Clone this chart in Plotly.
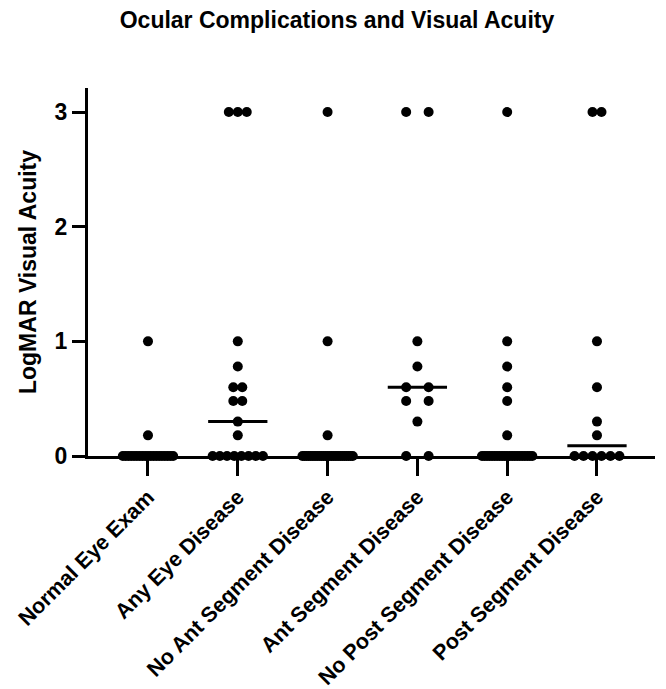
import numpy as np
import plotly.graph_objects as go

categories = ["Normal Eye Exam", "Any Eye Disease", "No Ant Segment Disease",
              "Ant Segment Disease", "No Post Segment Disease", "Post Segment Disease"]

normal_eye_exam = [1.0, 0.18] + [0.0] * 19
any_eye_disease = [3.0, 3.0, 3.0, 1.0, 0.78, 0.6, 0.6, 0.48, 0.48, 0.3, 0.18] + [0.0] * 8
no_ant_segment = [3.0, 1.0, 0.18] + [0.0] * 25
ant_segment = [3.0, 3.0, 1.0, 0.78, 0.6, 0.6, 0.48, 0.48, 0.3, 0.0, 0.0]
no_post_segment = [3.0, 1.0, 0.78, 0.6, 0.48, 0.18] + [0.0] * 21
post_segment = [3.0, 3.0, 1.0, 0.6, 0.3, 0.18] + [0.0] * 6

series = [normal_eye_exam, any_eye_disease, no_ant_segment,
          ant_segment, no_post_segment, post_segment]

y_ticks = [0, 1, 2, 3]

# horizontal spread (in category units) for stacked identical values
spread = [0.1, 0.1, 0.1, 0.25, 0.1, 0.1]
max_span = 0.56
half_line = 0.33

FONT = "Arial, Liberation Sans, sans-serif"

fig = go.Figure()

for i, vals in enumerate(series):
    vals = np.asarray(vals, dtype=float)
    xs = np.zeros(len(vals))
    for v in np.unique(vals):
        idx = np.where(vals == v)[0]
        k = len(idx)
        if k > 1:
            sp = min(spread[i], max_span / (k - 1))
            xs[idx] = (np.arange(k) - (k - 1) / 2) * sp
    fig.add_trace(go.Scatter(
        x=i + xs, y=vals, mode="markers",
        marker=dict(size=10, color="black"),
        cliponaxis=False, showlegend=False, hoverinfo="y"))
    med = float(np.median(vals))
    fig.add_trace(go.Scatter(
        x=[i - half_line, i + half_line], y=[med, med], mode="lines",
        line=dict(color="black", width=3),
        cliponaxis=False, showlegend=False, hoverinfo="skip"))

fig.update_layout(
    width=666, height=689,
    paper_bgcolor="white", plot_bgcolor="white",
    margin=dict(l=88, r=11, t=88, b=233, autoexpand=False),
    title=dict(text="<b>Ocular Complications and Visual Acuity</b>",
               x=0.506, xanchor="center", y=1 - 20 / 689, yanchor="middle",
               font=dict(family=FONT, size=23, color="black")),
    font=dict(family=FONT, color="black"),
)

fig.update_xaxes(
    range=[-0.668, 5.646], automargin=False,
    tickmode="array", tickvals=list(range(len(categories))), ticktext=categories,
    tickangle=-45, tickfont=dict(family=FONT, size=21.5, color="black", weight="bold"),
    ticks="outside", ticklen=17, tickwidth=3, tickcolor="black",
    showline=True, linewidth=3, linecolor="black",
    showgrid=False, zeroline=False, layer="below traces",
)

fig.update_yaxes(
    range=[0, 3.21], automargin=False,
    tickmode="array", tickvals=y_ticks, ticktext=[str(t) for t in y_ticks],
    tickfont=dict(family=FONT, size=23, color="black", weight="bold"),
    ticks="outside", ticklen=13, tickwidth=3, tickcolor="black",
    showline=True, linewidth=3, linecolor="black",
    showgrid=False, zeroline=False,
    title=dict(text="<b>LogMAR Visual Acuity</b>",
               font=dict(family=FONT, size=23, color="black"), standoff=12),
)

fig.write_html("out.html", config={"displayModeBar": False},
               post_script="document.body.style.margin='0px';")
